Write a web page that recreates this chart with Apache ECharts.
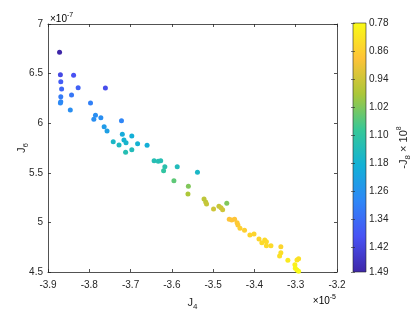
<!DOCTYPE html>
<html><head><meta charset="utf-8">
<script src="https://cdn.jsdelivr.net/npm/echarts@6/dist/echarts.min.js"></script>
<style>html,body{margin:0;padding:0;background:#fff}#c{width:415px;height:312px}</style>
</head><body><div id="c"></div>
<script>
// J4 (x 1e-5), J6 (x 1e-7), -J8 (x 1e8)
const j4 = [-3.872,-3.870,-3.838,-3.869,-3.867,-3.827,-3.761,-3.869,-3.843,-3.869,-3.870,-3.797,-3.846,-3.785,-3.789,-3.772,-3.722,-3.764,-3.757,-3.720,-3.697,-3.742,-3.716,-3.711,-3.728,-3.683,-3.660,-3.697,-3.712,-3.643,-3.633,-3.627,-3.617,-3.587,-3.620,-3.538,-3.595,-3.560,-3.561,-3.522,-3.518,-3.516,-3.467,-3.499,-3.486,-3.481,-3.477,-3.461,-3.455,-3.448,-3.442,-3.440,-3.435,-3.424,-3.411,-3.401,-3.389,-3.382,-3.375,-3.371,-3.371,-3.360,-3.336,-3.336,-3.339,-3.319,-3.302,-3.297,-3.293,-3.301,-3.297,-3.293];
const j6 = [6.715,6.489,6.483,6.418,6.345,6.358,6.355,6.267,6.284,6.217,6.204,6.204,6.133,6.080,6.039,6.055,6.025,5.965,5.921,5.888,5.871,5.814,5.831,5.803,5.780,5.793,5.777,5.733,5.707,5.622,5.616,5.622,5.561,5.561,5.521,5.505,5.420,5.364,5.286,5.236,5.206,5.185,5.193,5.135,5.162,5.148,5.128,5.031,5.024,5.031,4.997,4.974,4.941,4.920,4.873,4.883,4.833,4.795,4.823,4.805,4.765,4.765,4.755,4.694,4.661,4.618,4.574,4.621,4.634,4.537,4.520,4.508];
const j8 = [1.49,1.41,1.39,1.37,1.35,1.36,1.40,1.31,1.32,1.29,1.28,1.30,1.27,1.27,1.27,1.27,1.29,1.24,1.23,1.20,1.19,1.16,1.18,1.17,1.15,1.18,1.19,1.14,1.13,1.13,1.13,1.13,1.12,1.14,1.10,1.16,1.05,1.02,0.98,0.96,0.96,0.95,1.02,0.94,0.95,0.94,0.94,0.88,0.88,0.88,0.87,0.87,0.86,0.86,0.85,0.85,0.85,0.84,0.84,0.84,0.84,0.84,0.85,0.83,0.83,0.81,0.80,0.82,0.83,0.79,0.79,0.78];
const cbTicks = [0.78,0.86,0.94,1.02,1.10,1.18,1.26,1.34,1.42,1.49];

const parula = ['#F9FB15','#FEC338','#ABC739','#37C897','#12B1D6','#2E87F7','#4852F4','#3E26A8'];
const font = 'Liberation Sans';
const ac = '#262626';
const data = j4.map((x,i)=>[x, j6[i], j8[i]]);

const chart = echarts.init(document.getElementById('c'), null, {renderer:'canvas'});
const axLine = {show:true, onZero:false, lineStyle:{color:ac, width:0.8}};
const axTick = {show:true, inside:true, length:3, lineStyle:{color:ac, width:0.8}};
const lbl = {fontSize:10, color:ac, fontFamily:font};
const richName = {
  a:{fontSize:11, color:ac, fontFamily:font, verticalAlign:'middle', lineHeight:16},
  s:{fontSize:8, color:ac, fontFamily:font, verticalAlign:'bottom', lineHeight:16},
  p:{fontSize:7, color:ac, fontFamily:font, verticalAlign:'top', lineHeight:16}
};
const richExp = {
  a:{fontSize:10, color:ac, fontFamily:font, verticalAlign:'bottom', lineHeight:16},
  p:{fontSize:7, color:ac, fontFamily:font, verticalAlign:'top', lineHeight:12, padding:[4,0,0,0]}
};
chart.setOption({
  animation:false,
  backgroundColor:'#fff',
  grid:[
    {left:48, top:24, width:289, height:248, outerBoundsMode:'none', containLabel:false},
    {left:353, top:23, width:13, height:249, outerBoundsMode:'none', containLabel:false, show:true, borderColor:ac, borderWidth:0.6,
     backgroundColor:new echarts.graphic.LinearGradient(0,0,0,1, parula.map((c,i)=>({offset:i/(parula.length-1), color:c})))}
  ],
  xAxis:[
    {gridIndex:0, type:'value', min:-3.9, max:-3.2, interval:0.1, axisLine:axLine, axisTick:axTick,
     axisLabel:Object.assign({margin:8, formatter:v=>v.toFixed(1)}, lbl), splitLine:{show:false},
     name:'{a|J}{s|4}', nameLocation:'middle', nameGap:23, nameMoveOverlap:false, nameTextStyle:{rich:richName}},
    {gridIndex:0, type:'value', position:'top', min:-3.9, max:-3.2, interval:0.1, axisLine:axLine, axisTick:axTick,
     axisLabel:{show:false}, splitLine:{show:false}},
    {gridIndex:1, type:'value', min:0, max:1, show:false}
  ],
  yAxis:[
    {gridIndex:0, type:'value', min:4.5, max:7, interval:0.5, axisLine:axLine, axisTick:axTick,
     axisLabel:Object.assign({margin:5}, lbl), splitLine:{show:false},
     name:'{a|J}{s|6}', nameLocation:'middle', nameGap:18, nameMoveOverlap:false, nameRotate:90, nameTextStyle:{rich:richName}},
    {gridIndex:0, type:'value', position:'right', min:4.5, max:7, interval:0.5, axisLine:axLine, axisTick:axTick,
     axisLabel:{show:false}, splitLine:{show:false}},
    {gridIndex:1, type:'value', position:'right', inverse:true, min:0.78, max:1.49,
     axisLine:{show:false}, axisTick:{show:true, inside:true, length:2, customValues:cbTicks, lineStyle:{color:ac, width:0.6}},
     axisLabel:Object.assign({margin:3, customValues:cbTicks, formatter:v=>v.toFixed(2)}, lbl), splitLine:{show:false},
     name:'{a|-J}{s|8}{a| × 10}{p|8}', nameLocation:'middle', nameGap:30, nameMoveOverlap:false, nameRotate:90, nameTextStyle:{rich:richName}},
    {gridIndex:1, type:'value', position:'left', inverse:true, min:0.78, max:1.49,
     axisLine:{show:false}, axisTick:{show:true, inside:true, length:2, customValues:cbTicks, lineStyle:{color:ac, width:0.6}},
     axisLabel:{show:false}, splitLine:{show:false}}
  ],
  visualMap:{type:'continuous', show:false, min:0.78, max:1.49, dimension:2, seriesIndex:0, inRange:{color:parula}},
  series:[{type:'scatter', xAxisIndex:0, yAxisIndex:0, data:data, symbolSize:5, itemStyle:{opacity:1}}],
  graphic:[
    {type:'text', left:50, top:8, style:{text:'{a|×10}{p|-7}', rich:richExp}},
    {type:'text', right:79, top:290, style:{text:'{a|×10}{p|-5}', rich:richExp}}
  ]
});
</script></body></html>
